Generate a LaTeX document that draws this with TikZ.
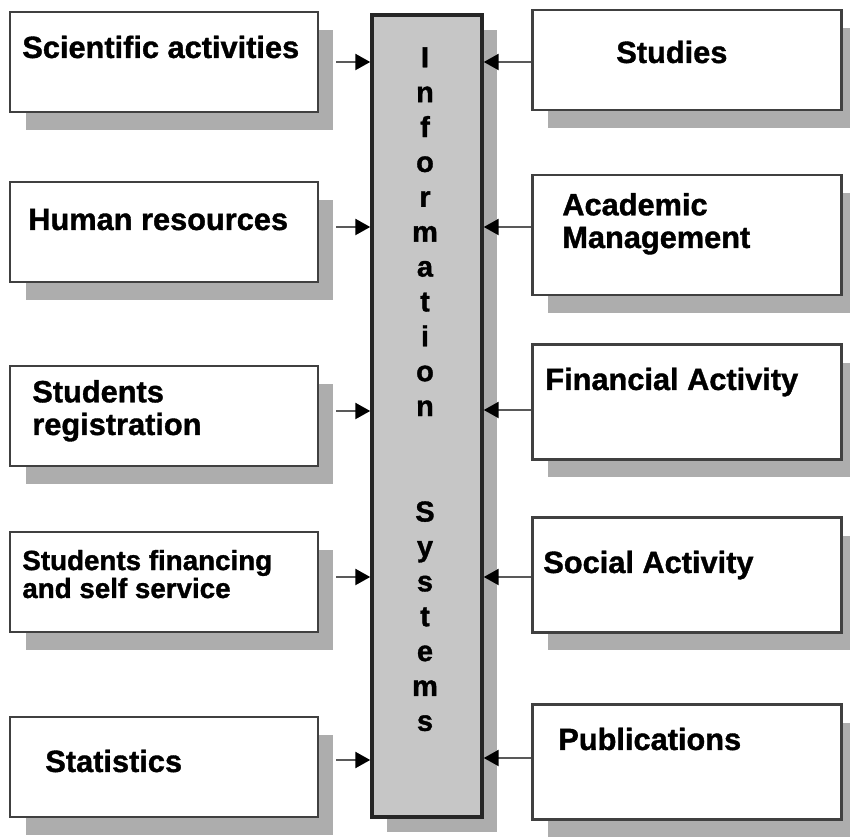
\documentclass[tikz,border=0pt]{standalone}
\usepackage{fontspec}
\setmainfont{Liberation Sans}[BoldFeatures={FakeBold=1.2}]
\usetikzlibrary{arrows.meta,shadows}

\begin{document}
\begin{tikzpicture}[
    x=0.02cm, y=-0.02cm,
    box/.style={rectangle, draw=black!75, line width=1.5pt, fill=white, inner sep=0pt,
        drop shadow={shadow xshift=0.31cm, shadow yshift=-0.36cm, fill=black!32, opacity=1}},
    lbox/.style={box, minimum width=6.16cm, minimum height=2cm},
    rbox/.style={box, minimum width=6.18cm},
    txt/.style={anchor=base west, inner sep=0pt, align=left, font=\fontsize{17.5}{18.6}\selectfont\bfseries},
    small/.style={font=\fontsize{15.8}{15.9}\selectfont\bfseries},
    vtxt/.style={anchor=north, inner sep=0pt, align=center, font=\fontsize{16.5}{19.85}\selectfont\bfseries},
    arrow/.style={draw=black!65, line width=1.4pt, -{Triangle[length=0.3cm, width=0.32cm, black]}}
]

\useasboundingbox (0,0) rectangle (850,837);

% Information Systems (middle column)
\node[rectangle, draw=black!85, line width=2pt, fill=gray!45, inner sep=0pt,
      minimum width=2.2cm, minimum height=16.04cm,
      drop shadow={shadow xshift=0.3cm, shadow yshift=-0.3cm, fill=black!32, opacity=1}]
      (info) at (427,416) {};
\node[vtxt] (infoword) at (425,47) {I\\n\\f\\o\\r\\m\\a\\t\\i\\o\\n};
\node[vtxt] (sysword) at (425,501) {S\\y\\s\\t\\e\\m\\s};

% Left boxes
\node[lbox] (l1) at (164,62) {};
\node[lbox] (l2) at (164,232) {};
\node[lbox] (l3) at (164,416) {};
\node[lbox] (l4) at (164,582) {};
\node[lbox] (l5) at (164,767) {};

\node[txt] (t1) at (22,58) {Scientific activities};
\node[txt] (t2) at (28,230) {Human resources};
\node[txt] (t3) at (32,435) {Students\\registration};
\node[txt, small] (t4) at (22,598) {Students financing\\and self service};
\node[txt] (t5) at (45,772) {Statistics};

% Right boxes
\node[rbox, minimum height=2cm] (r1) at (687,60) {};
\node[rbox, minimum height=2.4cm] (r2) at (687,235) {};
\node[rbox, minimum height=2.3cm] (r3) at (687,402) {};
\node[rbox, minimum height=2.3cm] (r4) at (687,575) {};
\node[rbox, minimum height=2.3cm] (r5) at (687,762) {};

\node[txt] (s1) at (616,63) {Studies};
\node[txt] (s2) at (562,248) {Academic\\Management};
\node[txt] (s3) at (545,390) {Financial Activity};
\node[txt] (s4) at (543,573) {Social Activity};
\node[txt] (s5) at (558,750) {Publications};

% Arrows into the middle column
\foreach \b/\dy in {l1/0, l2/0.1, l3/0.1, l4/0.1, l5/0.14}
    \draw[arrow] ([xshift=0.34cm, yshift=\dy cm]\b.east) -- ([yshift=\dy cm]\b.east -| info.west);
\foreach \b/\dy in {r1/-0.04, r2/0.16, r3/-0.16, r4/-0.04, r5/0.08}
    \draw[arrow] ([yshift=\dy cm]\b.west) -- ([yshift=\dy cm]\b.west -| info.east);

\end{tikzpicture}
\end{document}
